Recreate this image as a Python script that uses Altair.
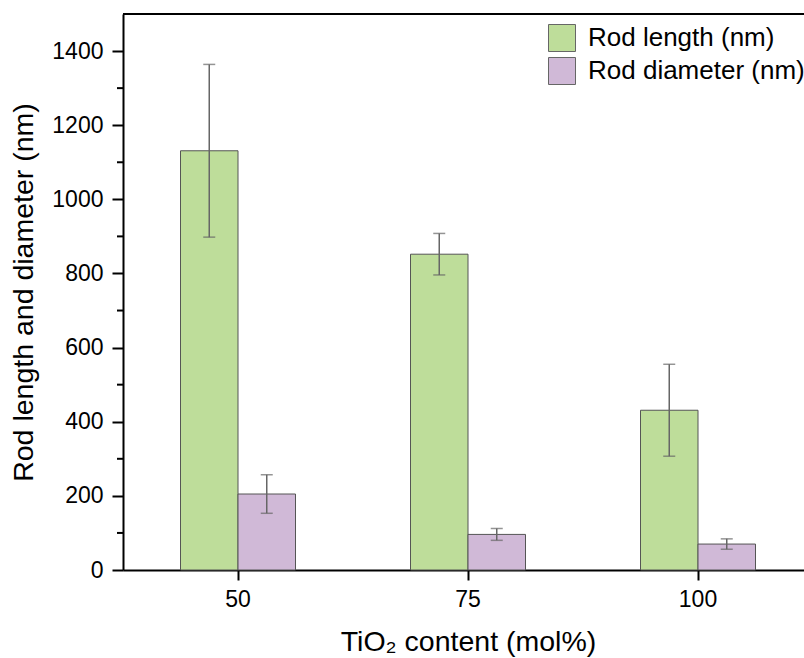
import altair as alt
import pandas as pd

categories = ["50", "75", "100"]
series_names = ["Rod length (nm)", "Rod diameter (nm)"]
length_mean = [1131, 852, 431]
length_err = [233, 56, 124]
diam_mean = [205, 96, 70]
diam_err = [52, 16, 14]
y_major = [0, 200, 400, 600, 800, 1000, 1200, 1400]
y_minor = [100, 300, 500, 700, 900, 1100, 1300]
colors = ["#BEDD9A", "#D0B9D7"]

rows = []
for i, c in enumerate(categories):
    for s, m, e in ((series_names[0], length_mean[i], length_err[i]),
                    (series_names[1], diam_mean[i], diam_err[i])):
        rows.append({"cat": c, "series": s, "mean": m, "lo": m - e, "hi": m + e})
df = pd.DataFrame(rows)
minor_df = pd.DataFrame({"v": y_minor})

FONT = "Liberation Sans"

x_enc = alt.X("cat:N", sort=categories,
              scale=alt.Scale(range=[0, 690], paddingInner=0, paddingOuter=0),
              axis=alt.Axis(title="TiO\u2082 content (mol%)", labelAngle=0,
                            labelFontSize=23, labelPadding=8, tickSize=10,
                            tickWidth=2, tickColor="black", domainColor="black",
                            domainWidth=2, labelColor="black",
                            titleFontSize=28.5, titleFontWeight="normal",
                            titleColor="black", titleBaseline="alphabetic",
                            titleX=345, titleY=80))
xo_enc = alt.XOffset("series:N", sort=series_names,
                     scale=alt.Scale(paddingInner=0, paddingOuter=1))
y_scale = alt.Scale(domain=[0, 1500], nice=False, zero=True)

bars = alt.Chart(df).mark_bar(stroke="#555555", strokeWidth=1).encode(
    x=x_enc,
    xOffset=xo_enc,
    y=alt.Y("mean:Q", scale=y_scale,
            axis=alt.Axis(title="Rod length and diameter (nm)", values=y_major,
                          format="d", grid=False, labelFontSize=23, labelPadding=9,
                          tickSize=11, tickWidth=2, tickColor="black",
                          domainColor="black", domainWidth=2, labelColor="black",
                          titleFontSize=28.5, titleFontWeight="normal",
                          titleColor="black", titleBaseline="alphabetic",
                          titleX=-91)),
    color=alt.Color("series:N", sort=series_names,
                    scale=alt.Scale(domain=series_names, range=colors),
                    legend=alt.Legend(title=None, orient="none", legendX=425,
                                      legendY=10, symbolType="square",
                                      symbolSize=729, symbolStrokeColor="#666666",
                                      symbolStrokeWidth=1, labelFontSize=26,
                                      labelColor="black", labelOffset=12,
                                      labelLimit=0, rowPadding=1, padding=0)),
)

err = alt.Chart(df).mark_rule(color="#666666", strokeWidth=1.5).encode(
    x=alt.X("cat:N", sort=categories), xOffset=xo_enc,
    y=alt.Y("lo:Q", scale=y_scale), y2="hi:Q")
cap_hi = alt.Chart(df).mark_tick(color="#666666", size=12, thickness=1.5).encode(
    x=alt.X("cat:N", sort=categories), xOffset=xo_enc,
    y=alt.Y("hi:Q", scale=y_scale))
cap_lo = alt.Chart(df).mark_tick(color="#666666", size=12, thickness=1.5).encode(
    x=alt.X("cat:N", sort=categories), xOffset=xo_enc,
    y=alt.Y("lo:Q", scale=y_scale))

minor = alt.Chart(minor_df).mark_rule(color="black", strokeWidth=2).encode(
    y=alt.Y("v:Q", scale=y_scale), x=alt.value(-6), x2=alt.value(0))

top_border = alt.Chart(pd.DataFrame({"t": [1500]})).mark_rule(
    color="black", strokeWidth=2).encode(y=alt.Y("t:Q", scale=y_scale))

chart = alt.layer(bars, err, cap_hi, cap_lo, minor, top_border).properties(
    width=681, height=556,
    autosize=alt.AutoSizeParams(type="none"),
    padding={"left": 123, "top": 14, "right": 0, "bottom": 88},
).configure_view(stroke=None).configure(font=FONT, background="white")

chart.save("out.html", embed_options={"renderer": "svg", "actions": False})
